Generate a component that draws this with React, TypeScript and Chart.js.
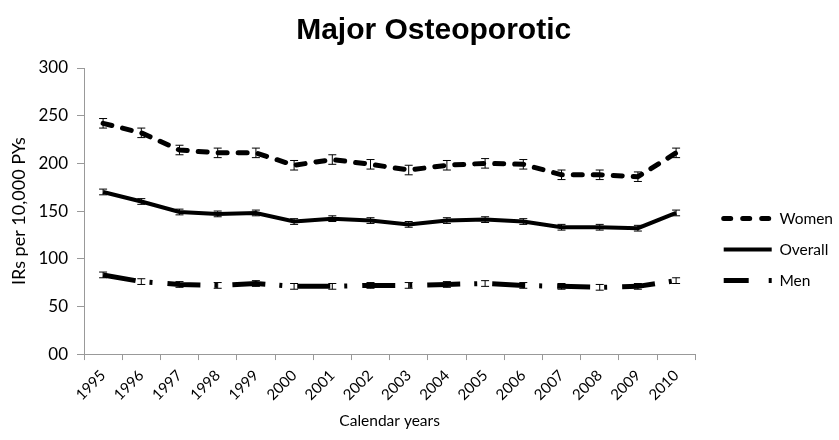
import React, { useEffect, useRef } from "react";
import { Chart, registerables } from "chart.js";

Chart.register(...registerables);

const years = ["1995","1996","1997","1998","1999","2000","2001","2002","2003","2004","2005","2006","2007","2008","2009","2010"];
const women = [242, 232, 214, 211, 211, 198, 204, 199, 193, 198, 200, 199, 188, 188, 186, 211];
const overall = [170, 160, 149, 147, 148, 139, 142, 140, 136, 140, 141, 139, 133, 133, 132, 148];
const men = [83, 76, 73, 72, 74, 71, 71, 72, 72, 73, 74, 72, 71, 70, 71, 77];
const womenErr = [5, 5, 5, 5, 5, 5, 5, 5, 5, 5, 5, 5, 5, 5, 5, 5];
const overallErr = [3, 3, 3, 3, 3, 3, 3, 3, 3, 3, 3, 3, 3, 3, 3, 3];
const menErr = [3, 3, 3, 3, 3, 3, 3, 3, 3, 3, 3, 3, 3, 3, 3, 3];
const yTicks = [0, 50, 100, 150, 200, 250, 300];

const errors = [womenErr, overallErr, menErr];
const legendDashes = [[7, 12], [], [25, 20, 3, 20]];

const errorBarPlugin = {
  id: "errorBars",
  afterDatasetsDraw(chart: any) {
    const ctx = chart.ctx;
    const yScale = chart.scales.y;
    ctx.save();
    ctx.strokeStyle = "#000";
    ctx.lineWidth = 1;
    ctx.setLineDash([]);
    chart.data.datasets.forEach((ds: any, di: number) => {
      const meta = chart.getDatasetMeta(di);
      const err = errors[di];
      meta.data.forEach((pt: any, i: number) => {
        const v = ds.data[i];
        const x = pt.x;
        const yTop = yScale.getPixelForValue(v + err[i]);
        const yBot = yScale.getPixelForValue(v - err[i]);
        ctx.beginPath();
        ctx.moveTo(x, yTop);
        ctx.lineTo(x, yBot);
        ctx.moveTo(x - 4, yTop);
        ctx.lineTo(x + 4, yTop);
        ctx.moveTo(x - 4, yBot);
        ctx.lineTo(x + 4, yBot);
        ctx.stroke();
      });
    });
    ctx.restore();
  },
};

const legendShiftPlugin = {
  id: "legendShift",
  afterLayout(chart: any) {
    const lg = chart.legend;
    if (lg) {
      lg.left += 13;
      lg.right += 13;
    }
  },
};

export default function App() {
  const ref = useRef<HTMLCanvasElement | null>(null);
  useEffect(() => {
    document.body.style.margin = "0";
    const font = "Lato, 'Liberation Sans', sans-serif";
    const chart = new Chart(ref.current as HTMLCanvasElement, {
      type: "line",
      data: {
        labels: years,
        datasets: [
          {
            label: "Women",
            data: women,
            borderColor: "#000",
            backgroundColor: "#000",
            borderWidth: 5,
            borderDash: [9, 11],
            borderCapStyle: "round",
            pointRadius: 0,
            tension: 0,
          },
          {
            label: "Overall",
            data: overall,
            borderColor: "#000",
            backgroundColor: "#000",
            borderWidth: 4,
            pointRadius: 0,
            tension: 0,
          },
          {
            label: "Men",
            data: men,
            borderColor: "#000",
            backgroundColor: "#000",
            borderWidth: 5,
            borderDash: [33, 14, 3, 15],
            borderCapStyle: "butt",
            pointRadius: 0,
            tension: 0,
          },
        ],
      },
      options: {
        animation: false,
        responsive: true,
        maintainAspectRatio: false,
        layout: { padding: { left: 4, right: 9, bottom: 6, top: 0 } },
        plugins: {
          title: {
            display: true,
            text: "    Major Osteoporotic",
            color: "#000",
            font: { family: "'Liberation Sans', Arial, sans-serif", size: 30, weight: "bold" },
            padding: { top: 13, bottom: 19 },
          },
          legend: {
            position: "right",
            title: { display: true, text: " ", font: { size: 1 }, padding: { top: 0, bottom: 64 } },
            labels: {
              usePointStyle: true,
              pointStyle: "line",
              pointStyleWidth: 48,
              boxHeight: 15.5,
              color: "#000",
              font: { family: font, size: 15.5 },
              padding: 15.5,
              generateLabels: (c: any) =>
                c.data.datasets.map((ds: any, i: number) => ({
                  text: ds.label,
                  fillStyle: "#000",
                  strokeStyle: "#000",
                  fontColor: "#000",
                  lineWidth: ds.borderWidth,
                  lineDash: legendDashes[i],
                  lineCap: ds.borderCapStyle || "butt",
                  pointStyle: "line",
                  hidden: false,
                  datasetIndex: i,
                })),
            },
          },
          tooltip: { enabled: false },
        },
        scales: {
          x: {
            offset: true,
            grid: { drawOnChartArea: false, offset: true, tickLength: 6, color: "#999" },
            border: { color: "#999" },
            ticks: { color: "#000", font: { family: font, size: 15 }, minRotation: 45, maxRotation: 45, padding: 6.5 },
            title: { display: true, text: "Calendar years", color: "#000", font: { family: font, size: 15.5 }, padding: { top: 1, bottom: 4 } },
          },
          y: {
            min: 0,
            max: 300,
            afterBuildTicks: (axis: any) => {
              axis.ticks = yTicks.map((v) => ({ value: v }));
            },
            afterFit: (axis: any) => {
              axis.width = 80;
            },
            grid: { drawOnChartArea: false, tickLength: 7, color: "#999" },
            border: { color: "#999" },
            ticks: {
              color: "#000",
              font: { family: font, size: 17 },
              padding: 9,
              callback: (v: any) => (Number(v) === 0 ? "00" : String(v)),
            },
            title: { display: true, text: "IRs per 10,000 PYs", color: "#000", font: { family: font, size: 18 }, padding: { top: 4, bottom: 0 } },
          },
        },
      },
      plugins: [errorBarPlugin, legendShiftPlugin],
    });
    return () => chart.destroy();
  }, []);
  return (
    <div style={{ width: 839, height: 440, position: "relative" }}>
      <canvas ref={ref} />
    </div>
  );
}
